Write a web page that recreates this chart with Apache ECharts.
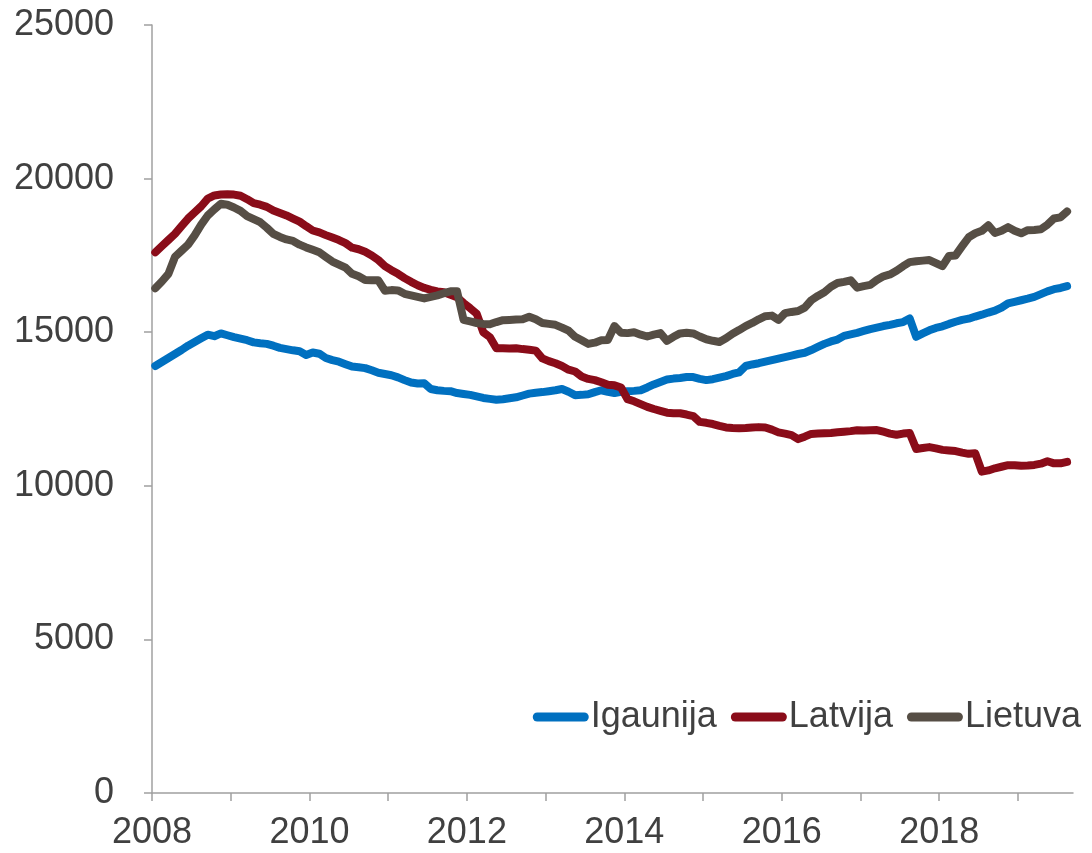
<!DOCTYPE html>
<html>
<head>
<meta charset="utf-8">
<script src="https://cdn.jsdelivr.net/npm/echarts@6.0.0/dist/echarts.min.js"></script>
<style>
  html, body { margin: 0; padding: 0; background: #fff; }
  #chart { width: 1092px; height: 853px; }
</style>
</head>
<body>
<div id="chart"></div>
<script>
// monthly values, Jan 2008 .. Aug 2019
const seriesNames = ['Igaunija', 'Latvija', 'Lietuva'];

const igaunija = [
  13900, 14030, 14160, 14290, 14420, 14560, 14680, 14800, 14920, 14870, 14960, 14900,
  14840, 14790, 14740, 14670, 14640, 14620, 14560, 14490, 14450, 14410, 14380, 14260,
  14340, 14300, 14160, 14090, 14040, 13960, 13880, 13860, 13830, 13760, 13680, 13640,
  13600, 13530, 13440, 13360, 13330, 13340, 13150, 13110, 13090, 13080, 13020, 12990,
  12960, 12910, 12860, 12830, 12800, 12820, 12850, 12880, 12940, 13000, 13030, 13050,
  13080, 13110, 13150, 13060, 12950, 12960, 12980, 13050, 13110, 13060, 13020, 13060,
  13080, 13090, 13110, 13200, 13300, 13380, 13460, 13490, 13510, 13540, 13540, 13480,
  13440, 13470, 13520, 13570, 13640, 13690, 13900, 13950, 13990, 14040, 14090, 14140,
  14190, 14240, 14290, 14330, 14420, 14520, 14620, 14700, 14760, 14880, 14930, 14980,
  15040, 15100, 15150, 15200, 15240, 15290, 15330, 15450, 14850, 14960, 15060, 15140,
  15190, 15270, 15340, 15400, 15440, 15510, 15570, 15640, 15700, 15800, 15940, 15990,
  16040, 16090, 16150, 16240, 16330, 16400, 16440, 16500
];

const latvija = [
  17600, 17800, 18000, 18200, 18450, 18700, 18900, 19100, 19350, 19450, 19480, 19490,
  19480, 19440, 19330, 19200, 19150, 19080, 18960, 18880, 18800, 18700, 18600, 18450,
  18310, 18250, 18160, 18080, 18000, 17900, 17750, 17700, 17620, 17500, 17350, 17150,
  17020, 16900, 16760, 16640, 16530, 16440, 16380, 16330, 16300, 16220, 16140, 15950,
  15780, 15600, 15000, 14840, 14480, 14480, 14470, 14480, 14450, 14430, 14400, 14150,
  14060, 13990, 13900, 13780, 13720, 13560, 13480, 13440, 13370, 13290, 13270, 13200,
  12820, 12750, 12660, 12570, 12500, 12440, 12380, 12360, 12360, 12320, 12270, 12080,
  12050, 12010, 11950, 11900, 11880, 11870, 11880, 11900, 11910, 11900, 11830, 11740,
  11700, 11650, 11520, 11600, 11690, 11700, 11710, 11720, 11740, 11760, 11780, 11810,
  11800, 11810, 11815, 11760, 11700, 11660, 11700, 11720, 11200, 11230, 11260, 11220,
  11170, 11150, 11130, 11080, 11040, 11060, 10460, 10500, 10570, 10620, 10670, 10670,
  10650, 10660, 10680, 10720, 10800, 10730, 10730, 10780
];

const lietuva = [
  16430, 16650, 16900, 17450, 17650, 17850, 18150, 18500, 18800, 19000, 19180, 19150,
  19060, 18950, 18780, 18680, 18580, 18400, 18200, 18100, 18020, 17970, 17850, 17760,
  17680, 17600, 17450, 17300, 17200, 17100, 16900, 16820, 16700, 16690, 16690, 16350,
  16370, 16360, 16250, 16200, 16150, 16100, 16150, 16200, 16270, 16330, 16330, 15400,
  15350, 15300, 15270, 15260, 15330, 15390, 15400, 15410, 15420, 15500, 15420, 15300,
  15270, 15240, 15150, 15050, 14850, 14740, 14620, 14660, 14740, 14750, 15200, 14980,
  14970, 15000, 14920, 14860, 14920, 14970, 14720, 14850, 14960, 14980, 14960, 14860,
  14770, 14720, 14680, 14800, 14950, 15070, 15200, 15300, 15420, 15520, 15540, 15400,
  15620, 15660, 15690, 15800, 16040, 16180, 16300, 16480, 16600, 16640, 16690, 16450,
  16500, 16540, 16700, 16820, 16880, 17000, 17150, 17280, 17310, 17330, 17350, 17250,
  17150, 17480, 17500, 17800, 18090, 18220, 18300, 18480, 18230, 18300, 18420, 18300,
  18220, 18320, 18330, 18350, 18500, 18700, 18740, 18930
];

const yearTicks = [2008, 2009, 2010, 2011, 2012, 2013, 2014, 2015, 2016, 2017, 2018, 2019];
const yearLabels = [2008, 2010, 2012, 2014, 2016, 2018];
const colors = ['#0070c0', '#8a0c19', '#564e45'];

// mid-month positions on the year axis
const toPoints = (arr) => arr.map((v, m) => [2008 + (m + 0.5) / 12, v]);

const font = '"Liberation Sans", Arial, sans-serif';
const textColor = '#404040';
const axisColor = '#a0a0a0';
// pill shaped legend key (thick line with round ends)
const pill = 'path://M4.5,0 H51.5 A4.5,4.5 0 0 1 51.5,9 H4.5 A4.5,4.5 0 0 1 4.5,0 Z';

const chart = echarts.init(document.getElementById('chart'), null, { renderer: 'canvas' });

chart.setOption({
  backgroundColor: '#ffffff',
  animation: false,
  color: colors,
  textStyle: { fontFamily: font, color: textColor },
  grid: { left: 152, right: 19, top: 25, bottom: 60, containLabel: false, outerBoundsMode: 'none' },
  legend: {
    data: seriesNames.map((name) => ({ name, icon: pill })),
    right: 6,
    top: 694,
    itemWidth: 56,
    itemHeight: 9,
    itemGap: 14,
    textStyle: { fontFamily: font, fontSize: 36, color: textColor, padding: [0, 0, 0, -3] }
  },
  xAxis: {
    type: 'value',
    min: 2008,
    max: 2019.7,
    splitLine: { show: false },
    axisLine: { lineStyle: { color: axisColor, width: 1.5 } },
    axisTick: { show: true, length: 8, lineStyle: { color: axisColor, width: 1.5 }, customValues: yearTicks },
    axisLabel: {
      customValues: yearLabels,
      formatter: (v) => String(v),
      fontFamily: font,
      fontSize: 36,
      color: textColor,
      margin: 22
    }
  },
  yAxis: {
    type: 'value',
    min: 0,
    max: 25000,
    interval: 5000,
    splitLine: { show: false },
    axisLine: { show: true, lineStyle: { color: axisColor, width: 1.5 } },
    axisTick: { show: true, length: 8, lineStyle: { color: axisColor, width: 1.5 } },
    axisLabel: {
      formatter: (v) => String(v),
      fontFamily: font,
      fontSize: 36,
      color: textColor,
      margin: 38
    }
  },
  series: [
    { name: 'Igaunija', type: 'line', data: toPoints(igaunija) },
    { name: 'Latvija', type: 'line', data: toPoints(latvija) },
    { name: 'Lietuva', type: 'line', data: toPoints(lietuva) }
  ].map((s) => Object.assign(s, {
    symbol: 'none',
    showSymbol: false,
    lineStyle: { width: 8, cap: 'round', join: 'round' }
  }))
});
</script>
</body>
</html>
